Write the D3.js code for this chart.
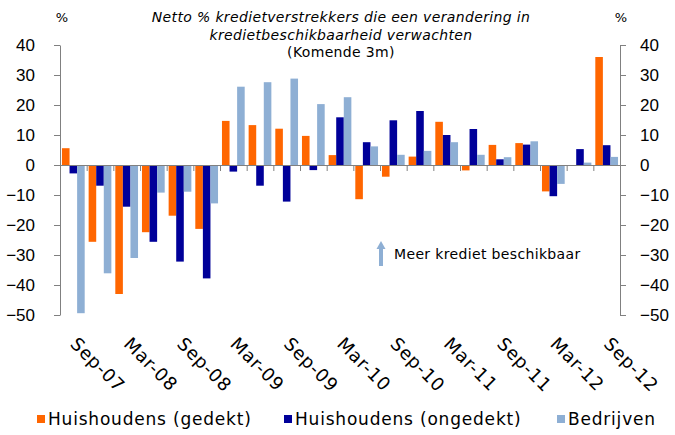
<!doctype html>
<html>
<head>
<meta charset="utf-8">
<style>
  body { margin: 0; background: #fff; font-family: 'DejaVu Sans', Verdana, sans-serif; }
  svg { display: block; }
  text { fill: #000; }
  .axis path, .axis line { stroke: #808080; }
  .title { font-size: 14px; font-style: italic; letter-spacing: 0.35px; }
  .sub { font-size: 14px; letter-spacing: 0.35px; }
  .tick text { font-size: 17px; }
  .legend text { font-size: 17px; letter-spacing: 0.8px; }
  .note { font-size: 14px; letter-spacing: 0.35px; }
  .xlab { font-size: 18px; letter-spacing: 0.8px; }
</style>
<script src="https://d3js.org/d3.v7.min.js"></script>
</head>
<body>
<svg width="675" height="435"></svg>
<script>
// quarters Sep-07 .. Sep-12
const quarters = ['Sep-07','Dec-07','Mar-08','Jun-08','Sep-08','Dec-08','Mar-09','Jun-09','Sep-09','Dec-09',
                  'Mar-10','Jun-10','Sep-10','Dec-10','Mar-11','Jun-11','Sep-11','Dec-11','Mar-12','Jun-12','Sep-12'];
const shownLabels = ['Sep-07','Mar-08','Sep-08','Mar-09','Sep-09','Mar-10','Sep-10','Mar-11','Sep-11','Mar-12','Sep-12'];
const seriesNames = ['Huishoudens (gedekt)', 'Huishoudens (ongedekt)', 'Bedrijven'];
const gedekt   = [5.6, -25.6, -43, -22.4, -16.9, -21.3, 14.7, 13.3, 12.1, 9.7, 3.3, -11.4, -3.9, 2.8, 14.4, -1.8, 6.7, 7.3, -8.8, 0, 36];
const ongedekt = [-2.8, -6.9, -13.9, -25.6, -32.2, -37.8, -2.2, -6.9, -12.2, -1.7, 15.9, 7.6, 14.9, 18, 10, 12, 1.9, 6.8, -10.4, 5.3, 6.6];
const bedrijven = [-49.4, -36.1, -31, -9.2, -8.9, -12.8, 26.1, 27.6, 28.8, 20.3, 22.6, 6.2, 3.4, 4.7, 7.6, 3.4, 2.6, 7.9, -6.3, 0.8, 2.7];
const yTicks = [40, 30, 20, 10, 0, -10, -20, -30, -40, -50];
const colors = ['#ff6600', '#000099', '#8eafd4'];

const svg = d3.select('svg');
const mLeft = 60, mRight = 620, mTop = 45, mBottom = 315;

const x = d3.scaleBand().domain(quarters).range([mLeft, mRight]).paddingInner(0).paddingOuter(0);
const inner = d3.scaleBand().domain(d3.range(3)).range([0, x.bandwidth()]).paddingInner(0).paddingOuter(0.26);
const y = d3.scaleLinear().domain([-50, 40]).range([mBottom, mTop]);

// y axes
svg.append('g').attr('class', 'axis').attr('transform', `translate(${mLeft},0)`)
  .call(d3.axisLeft(y).tickValues(yTicks).tickSize(6).tickPadding(19).tickSizeOuter(0));
svg.append('g').attr('class', 'axis').attr('transform', `translate(${mRight},0)`)
  .call(d3.axisRight(y).tickValues(yTicks).tickSize(6).tickPadding(14).tickSizeOuter(0));

// bars
const data = [gedekt, ongedekt, bedrijven];
data.forEach((vals, s) => {
  svg.append('g').selectAll('rect').data(vals).join('rect')
    .attr('x', (d, i) => x(quarters[i]) + inner(s))
    .attr('width', inner.bandwidth())
    .attr('y', d => y(Math.max(0, d)))
    .attr('height', d => Math.abs(y(d) - y(0)))
    .attr('fill', colors[s]);
});

// zero line with category ticks
const xa = d3.axisBottom(d3.scaleLinear().domain([0, quarters.length]).range([mLeft, mRight]))
  .tickValues(d3.range(1, quarters.length)).tickSize(6).tickFormat('').tickSizeOuter(0);
svg.append('g').attr('class', 'axis').attr('transform', `translate(0,${y(0)})`).call(xa);

// rotated category labels
svg.append('g').selectAll('text').data(shownLabels).join('text')
  .attr('class', 'xlab')
  .attr('transform', d => `translate(${x(d) + x.bandwidth() / 2 - 4},${mBottom + 30}) rotate(45)`)
  .attr('text-anchor', 'start')
  .text(d => d);

// titles
svg.append('text').attr('class', 'title').attr('x', 341).attr('y', 22).attr('text-anchor', 'middle')
  .text('Netto % kredietverstrekkers die een verandering in');
svg.append('text').attr('class', 'title').attr('x', 341).attr('y', 40).attr('text-anchor', 'middle')
  .text('kredietbeschikbaarheid verwachten');
svg.append('text').attr('class', 'sub').attr('x', 341).attr('y', 57).attr('text-anchor', 'middle')
  .text('(Komende 3m)');
svg.append('text').attr('x', 62).attr('y', 22).attr('font-size', 13).attr('text-anchor', 'middle').text('%');
svg.append('text').attr('x', 621).attr('y', 22).attr('font-size', 13).attr('text-anchor', 'middle').text('%');

// annotation arrow
const arrow = svg.append('g').attr('fill', '#8eafd4');
arrow.append('rect').attr('x', 379).attr('y', 248).attr('width', 4).attr('height', 18);
arrow.append('path').attr('d', 'M376.5,249 L381,241 L385.5,249 Z');
svg.append('text').attr('class', 'note').attr('x', 394).attr('y', 259).text('Meer krediet beschikbaar');

// legend
const legX = [37, 284, 557];
const leg = svg.append('g').attr('class', 'legend');
seriesNames.forEach((n, i) => {
  leg.append('rect').attr('x', legX[i]).attr('y', 415).attr('width', 8).attr('height', 8).attr('fill', colors[i]);
  leg.append('text').attr('x', legX[i] + 11).attr('y', 425).text(n);
});
</script>
</body>
</html>
